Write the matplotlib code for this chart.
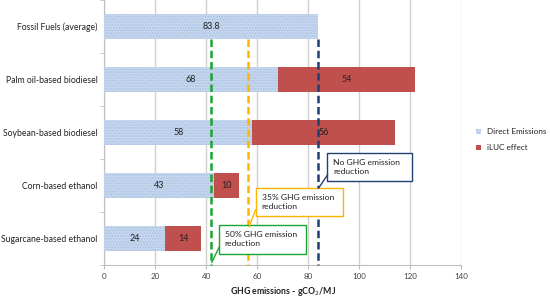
import matplotlib
matplotlib.use("Agg")
import matplotlib.pyplot as plt

plt.rcParams['font.family'] = ['Lato', 'DejaVu Sans']
plt.rcParams['hatch.linewidth'] = 0.8

categories = ["Fossil Fuels (average)", "Palm oil-based biodiesel", "Soybean-based biodiesel",
              "Corn-based ethanol", "Sugarcane-based ethanol"]
direct = [83.8, 68, 58, 43, 24]
iluc = [0, 54, 56, 10, 14]
direct_labels = ["83.8", "68", "58", "43", "24"]
iluc_labels = ["", "54", "56", "10", "14"]
xticks = [0, 20, 40, 60, 80, 100, 120, 140]

thresholds = [41.9, 56.5, 83.8]
threshold_colors = ["#1aa530", "#ffb400", "#1f3f75"]
threshold_texts = ["50% GHG emission\nreduction", "35% GHG emission\nreduction", "No GHG emission\nreduction"]

fig = plt.figure(figsize=(5.5, 2.98), dpi=100)
ax = fig.add_axes([104.3/550, 1-265/298, (461-104.3)/550, 265/298])

ypos = list(range(len(categories)))
h = 0.49
ax.barh(ypos, direct, height=h, color="#c6d7ee", edgecolor="#a9c1e3", linewidth=0, hatch="......", zorder=3)
ax.barh(ypos, iluc, left=direct, height=h, color="#c0504d", linewidth=0, zorder=3)

for i in ypos:
    ax.text(direct[i]/2, i, direct_labels[i], ha="center", va="center", fontsize=6.5, color="#222222", zorder=5)
    if iluc_labels[i]:
        ax.text(direct[i] + iluc[i]/2, i, iluc_labels[i], ha="center", va="center", fontsize=6.5, color="#222222", zorder=5)

ax.set_ylim(4.5, -0.5)
ax.set_xlim(0, 140)
ax.set_xticks(xticks)
ax.set_xticklabels([str(t) for t in xticks], fontsize=5.8, color="#444444")
ax.set_yticks(ypos)
ax.set_yticklabels(categories, fontsize=6.2, color="#222222")
ax.tick_params(axis="y", length=0, pad=5)
ax.tick_params(axis="x", length=3, color="#bfbfbf", pad=3)
ax.set_yticks([-0.5, 0.5, 1.5, 2.5, 3.5, 4.5], minor=True)
ax.tick_params(axis="y", which="minor", length=3, color="#bfbfbf")
ax.grid(axis="x", color="#d0d0d0", linewidth=1, zorder=0)
for s in ["top", "right"]:
    ax.spines[s].set_visible(False)
ax.spines["left"].set_color("#bfbfbf")
ax.spines["bottom"].set_color("#bfbfbf")

ax.set_xlabel("GHG emissions - gCO$_2$/MJ", fontsize=6.3, fontweight="bold", color="#222222", labelpad=3)

# dashed threshold lines from bottom of fossil bar to axis
for x, c in zip(thresholds, threshold_colors):
    ax.plot([x, x], [0 + h/2, 4.5], color=c, linestyle=(0, (3, 1.5)), linewidth=1.8, zorder=4, clip_on=False)

# callout boxes (data coords): box x0, x1, y_top, y_bottom, tail end y
box_specs = [
    (45.0, 79.2, 3.74, 4.29, 4.45),
    (59.4, 93.5, 3.05, 3.58, 3.78),
    (87.6, 120.6, 2.38, 2.92, 3.05),
]
for (x0, x1, yt, yb, ytail), xl, c, t in zip(box_specs, thresholds, threshold_colors, threshold_texts):
    ax.add_patch(plt.Rectangle((x0, yt), x1 - x0, yb - yt, facecolor="white", edgecolor=c, linewidth=1.0, zorder=6))
    ax.plot([x0, xl + 0.3], [yb - 0.12, ytail], color=c, linewidth=1.0, zorder=6)
    ax.text(x0 + 2.3, (yt + yb)/2, t, ha="left", va="center", fontsize=6.1, color="#222222", zorder=7, linespacing=1.35)

# legend
fig.patches.append(plt.Rectangle((476/550, 1-134/298), 5/550, 5/298, transform=fig.transFigure,
                                 facecolor="#c6d7ee", edgecolor="#a9c1e3", hatch="....", linewidth=0))
fig.patches.append(plt.Rectangle((476/550, 1-150/298), 5/550, 5/298, transform=fig.transFigure,
                                 facecolor="#c0504d", linewidth=0))
fig.text(487/550, 1-131/298, "Direct Emissions", fontsize=5.9, va="center", color="#222222")
fig.text(487/550, 1-147/298, "iLUC effect", fontsize=5.9, va="center", color="#222222")

fig.savefig("out.png", dpi=100)
